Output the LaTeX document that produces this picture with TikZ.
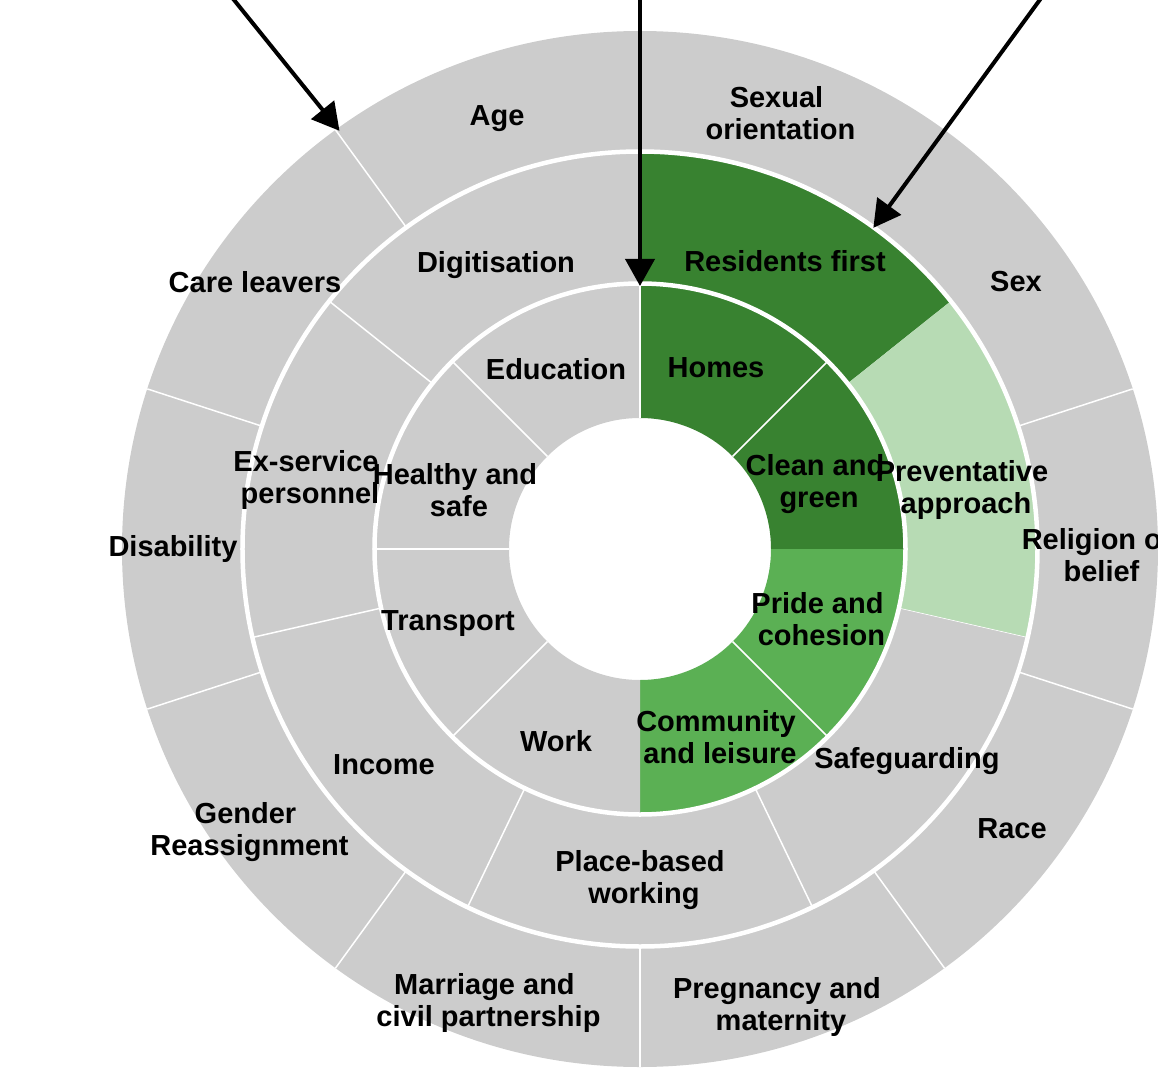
\documentclass[tikz,border=0pt]{standalone}
\usepackage{fontspec}
\setmainfont{Liberation Sans}
\usetikzlibrary{arrows.meta}
\definecolor{ringgray}{RGB}{204,204,204}
\definecolor{darkgreen}{RGB}{56,130,48}
\definecolor{midgreen}{RGB}{91,176,84}
\definecolor{lightgreen}{RGB}{183,219,180}

\begin{document}
\begin{tikzpicture}[x=1pt,y=1pt,
		lbl/.style={font={\fontsize{29}{31.5}\selectfont\bfseries},align=center,inner sep=0pt},
		spoke/.style={white,line width=1.5pt},
		pointer/.style={line width=4pt,-{Triangle[length=27pt,width=29pt]}}]
				\useasboundingbox (-640,-519) rectangle (518,549);
				\foreach \a/\b/\c in {45/90/darkgreen,0/45/darkgreen,-45/0/midgreen,-90/-45/midgreen,90/270/ringgray}
				\fill[\c] (\a:131) arc[start angle=\a,end angle=\b,radius=131] -- (\b:266) arc[start angle=\b,end angle=\a,radius=266] -- cycle;
				\foreach \a/\b/\c in {38.571/90/darkgreen,-12.857/38.571/lightgreen,90/347.143/ringgray}
				\fill[\c] (\a:266) arc[start angle=\a,end angle=\b,radius=266] -- (\b:398) arc[start angle=\b,end angle=\a,radius=398] -- cycle;
				\fill[ringgray,even odd rule] (0,0) circle (518) (0,0) circle (398);
				\foreach \a in {45,90,135,180,225,315}
				\draw[spoke] (\a:131) -- (\a:266);
				\foreach \a in {141.429,192.857,244.286,295.714}
				\draw[spoke] (\a:266) -- (\a:398);
				\draw[spoke,line width=0.6pt] (347.143:266) -- (347.143:398);
				\foreach \a in {18,54,...,342}
				\draw[spoke] (\a:398) -- (\a:518);
				\draw[white,line width=4.5pt] (0,0) circle (265.5);
				\draw[white,line width=4.5pt] (0,0) circle (397.5);

				\node[lbl] (age) at (-143,430) {Age};
				\node[lbl] (sexorient) at (140.5,436) {Sexual\kern8pt\\orientation};
				\node[lbl] (sex) at (376,267) {Sex};
				\node[lbl] (religion) at (461.5,-6) {Religion or\kern8pt\\belief};
				\node[lbl] (race) at (372,-280) {Race};
				\node[lbl] (pregnancy) at (141,-458) {Pregnancy and\kern8pt\\maternity};
				\node[lbl] (marriage) at (-151.5,-454) {Marriage and\kern8pt\\civil partnership};
				\node[lbl] (gender) at (-390.5,-283) {Gender\kern8pt\\Reassignment};
				\node[lbl] (disability) at (-467,0) {Disability};
				\node[lbl] (careleavers) at (-385,267) {Care leavers};
				\node[lbl] (digitisation) at (-144,284) {Digitisation};
				\node[lbl] (residents) at (145,288) {Residents first};
				\node[lbl] (exservice) at (-330,69) {Ex-service\kern8pt\\personnel};
				\node[lbl] (preventative) at (326,59) {Preventative\kern8pt\\approach};
				\node[lbl] (safeguarding) at (267,-212) {Safeguarding};
				\node[lbl] (placebased) at (4,-331) {Place-based\kern8pt\\working};
				\node[lbl] (income) at (-256,-216) {Income};
				\node[lbl] (education) at (-84,180) {Education};
				\node[lbl] (homes) at (76,181) {Homes};
				\node[lbl] (healthy) at (-181,59) {Healthy and\kern8pt\\safe};
				\node[lbl] (clean) at (179,65) {Clean and\kern8pt\\green};
				\node[lbl] (transport) at (-192,-75) {Transport};
				\node[lbl] (work) at (-84,-192) {Work};
				\node[lbl] (pride) at (181.5,-70) {Pride and\kern8pt\\cohesion};
				\node[lbl] (community) at (80,-188) {Community\kern8pt\\and leisure};

				\coordinate (agestart) at (-414,559);
				\coordinate (agetip) at (125.7:515);
				\coordinate (ringstart) at (0,560);
				\coordinate (ringtip) at (90:263);
				\coordinate (sexstart) at (407,559);
				\coordinate (sextip) at (54:397);
				\draw[pointer] (agestart) -- (agetip);
				\draw[pointer] (ringstart) -- (ringtip);
				\draw[pointer] (sexstart) -- (sextip);
			\end{tikzpicture}
\end{document}
